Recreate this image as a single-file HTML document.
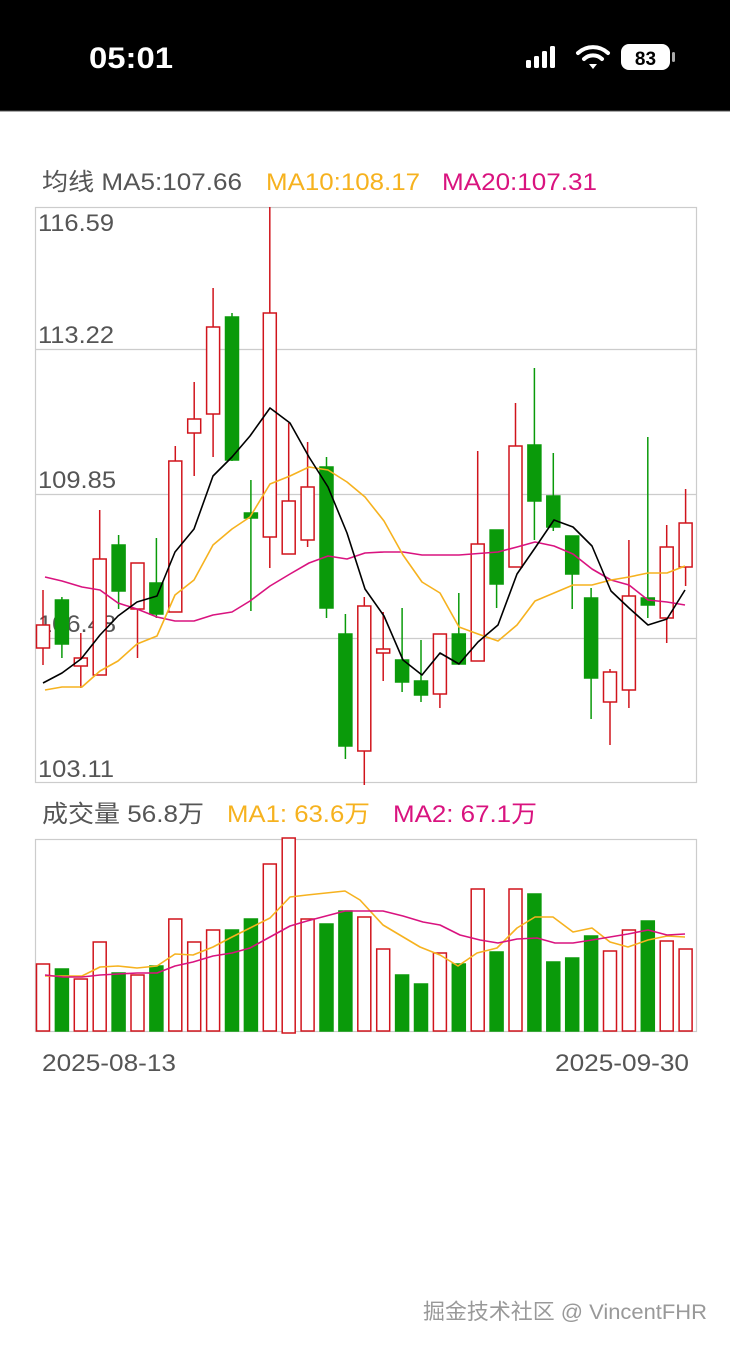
<!DOCTYPE html>
<html><head><meta charset="utf-8"><style>
html,body{margin:0;padding:0;background:#fff;width:730px;height:1348px;overflow:hidden}
svg{display:block}
text{font-family:"Liberation Sans","Noto Sans CJK SC",sans-serif}
</style></head><body>
<svg width="730" height="1348" viewBox="0 0 730 1348" xmlns="http://www.w3.org/2000/svg">
<rect x="0" y="0" width="730" height="111" fill="#000"/>
<line x1="0" y1="111" x2="730" y2="111" stroke="#555" stroke-width="1"/>
<text x="89" y="68" fill="#fff" font-size="30" font-weight="bold" textLength="84" lengthAdjust="spacingAndGlyphs">05:01</text>
<rect x="526" y="60" width="5" height="8" rx="1.5" fill="#fff"/>
<rect x="534" y="56" width="5" height="12" rx="1.5" fill="#fff"/>
<rect x="542" y="51" width="5" height="17" rx="1.5" fill="#fff"/>
<rect x="550" y="46" width="5" height="22" rx="1.5" fill="#fff"/>
<path d="M578 53 A22 22 0 0 1 608 53" stroke="#fff" stroke-width="4" fill="none" stroke-linecap="round"/>
<path d="M584 59 A13 13 0 0 1 602 59" stroke="#fff" stroke-width="4" fill="none" stroke-linecap="round"/>
<path d="M589 64 L593 69 L597 64 Z" fill="#fff"/>
<rect x="621" y="44" width="49" height="26" rx="8" fill="#fff"/>
<rect x="672" y="52" width="3" height="10" rx="1.5" fill="#aaa"/>
<text x="645.5" y="65" fill="#000" font-size="19" font-weight="bold" text-anchor="middle">83</text>

<g font-size="24" lengthAdjust="spacingAndGlyphs">
<text x="42" y="190" fill="#555" textLength="200" lengthAdjust="spacingAndGlyphs">均线 MA5:107.66</text>
<text x="266" y="190" fill="#f6b21f" textLength="154" lengthAdjust="spacingAndGlyphs">MA10:108.17</text>
<text x="442" y="190" fill="#d9137f" textLength="155" lengthAdjust="spacingAndGlyphs">MA20:107.31</text>
</g>

<rect x="35.5" y="207.5" width="661" height="575" fill="none" stroke="#ccc" stroke-width="1.2"/>
<line x1="35" y1="349.5" x2="696" y2="349.5" stroke="#ccc" stroke-width="1.2"/>
<line x1="35" y1="494.5" x2="696" y2="494.5" stroke="#ccc" stroke-width="1.2"/>
<line x1="35" y1="638.5" x2="696" y2="638.5" stroke="#ccc" stroke-width="1.2"/>
<g font-size="24.5" fill="#555">
<text x="38" y="231" textLength="76" lengthAdjust="spacingAndGlyphs">116.59</text>
<text x="38" y="343" textLength="76" lengthAdjust="spacingAndGlyphs">113.22</text>
<text x="38" y="488" textLength="78" lengthAdjust="spacingAndGlyphs">109.85</text>
<text x="38" y="632" textLength="78" lengthAdjust="spacingAndGlyphs">106.48</text>
<text x="38" y="777" textLength="76" lengthAdjust="spacingAndGlyphs">103.11</text>
</g>

<g stroke-width="1.5">
<g stroke="#0a9a0a" fill="#0a9a0a">
<line x1="61.9" y1="597" x2="61.9" y2="658"/><rect x="55.4" y="600" width="13" height="44"/>
<line x1="118.6" y1="535" x2="118.6" y2="609"/><rect x="112.1" y="545" width="13" height="46"/>
<line x1="156.4" y1="538" x2="156.4" y2="618"/><rect x="149.9" y="583" width="13" height="31"/>
<line x1="232" y1="313" x2="232" y2="461"/><rect x="225.5" y="317" width="13" height="143"/>
<line x1="250.9" y1="480" x2="250.9" y2="611"/><rect x="244.4" y="513" width="13" height="5"/>
<line x1="326.5" y1="457" x2="326.5" y2="618"/><rect x="320" y="467" width="13" height="141"/>
<line x1="345.4" y1="614" x2="345.4" y2="759"/><rect x="338.9" y="634" width="13" height="112"/>
<line x1="402.1" y1="608" x2="402.1" y2="692"/><rect x="395.6" y="660" width="13" height="22"/>
<line x1="421" y1="640" x2="421" y2="702"/><rect x="414.5" y="681" width="13" height="14"/>
<line x1="458.8" y1="593" x2="458.8" y2="664"/><rect x="452.3" y="634" width="13" height="30"/>
<line x1="496.6" y1="530" x2="496.6" y2="608"/><rect x="490.1" y="530" width="13" height="54"/>
<line x1="534.4" y1="368" x2="534.4" y2="540"/><rect x="527.9" y="445" width="13" height="56"/>
<line x1="553.3" y1="453" x2="553.3" y2="531"/><rect x="546.8" y="496" width="13" height="31"/>
<line x1="572.2" y1="536" x2="572.2" y2="609"/><rect x="565.7" y="536" width="13" height="38"/>
<line x1="591.1" y1="588" x2="591.1" y2="719"/><rect x="584.6" y="598" width="13" height="80"/>
<line x1="647.8" y1="437" x2="647.8" y2="618"/><rect x="641.3" y="598" width="13" height="7"/>
</g>
<g stroke="#d0141c" fill="#fff">
<line x1="43" y1="590" x2="43" y2="665"/><rect x="36.5" y="625" width="13" height="23"/>
<line x1="80.8" y1="633" x2="80.8" y2="688"/><rect x="74.3" y="658" width="13" height="8"/>
<line x1="99.7" y1="510" x2="99.7" y2="675"/><rect x="93.2" y="559" width="13" height="116"/>
<line x1="137.5" y1="563" x2="137.5" y2="658"/><rect x="131" y="563" width="13" height="46"/>
<line x1="175.3" y1="446" x2="175.3" y2="612"/><rect x="168.8" y="461" width="13" height="151"/>
<line x1="194.2" y1="382" x2="194.2" y2="476"/><rect x="187.7" y="419" width="13" height="14"/>
<line x1="213.1" y1="288" x2="213.1" y2="457"/><rect x="206.6" y="327" width="13" height="87"/>
<line x1="269.8" y1="207" x2="269.8" y2="568"/><rect x="263.3" y="313" width="13" height="224"/>
<line x1="288.7" y1="423" x2="288.7" y2="554"/><rect x="282.2" y="501" width="13" height="53"/>
<line x1="307.6" y1="442" x2="307.6" y2="547"/><rect x="301.1" y="487" width="13" height="53"/>
<line x1="364.3" y1="597" x2="364.3" y2="785"/><rect x="357.8" y="606" width="13" height="145"/>
<line x1="383.2" y1="612" x2="383.2" y2="681"/><rect x="376.7" y="649" width="13" height="4"/>
<line x1="439.9" y1="634" x2="439.9" y2="708"/><rect x="433.4" y="634" width="13" height="60"/>
<line x1="477.7" y1="451" x2="477.7" y2="661"/><rect x="471.2" y="544" width="13" height="117"/>
<line x1="515.5" y1="403" x2="515.5" y2="567"/><rect x="509" y="446" width="13" height="121"/>
<line x1="610" y1="669" x2="610" y2="745"/><rect x="603.5" y="672" width="13" height="30"/>
<line x1="628.9" y1="540" x2="628.9" y2="708"/><rect x="622.4" y="596" width="13" height="94"/>
<line x1="666.7" y1="525" x2="666.7" y2="643"/><rect x="660.2" y="547" width="13" height="71"/>
<line x1="685.6" y1="489" x2="685.6" y2="586"/><rect x="679.1" y="523" width="13" height="44"/>
</g>
</g>

<g fill="none" stroke-width="1.6" stroke-linejoin="round">
<polyline stroke="#d9137f" points="45,577 62,581 82,587 100,590 118,603 137,609 157,617 175,621 194,621 213,615 232,612 250,601 270,586 290,574 309,563 328,556 347,559 365,553 384,552 403,552 422,555 440,555 459,555 485,553 498,552 517,547 535,542 554,546 573,554 592,569 611,580 629,585 648,600 667,602 685,605"/>
<polyline stroke="#f6b21f" points="45,690 62,687 82,687 100,671 118,661 137,644 157,636 175,595 194,580 213,545 232,529 250,517 270,484 290,476 309,467 328,470 347,482 365,497 384,521 403,555 422,582 440,593 459,627 478,634 498,641 517,625 535,601 554,593 573,585 592,585 611,580 629,577 648,573 667,573 685,566"/>
<polyline stroke="#000" points="43,683 62,673 81,659 100,635 118,616 137,602 157,596 175,552 194,529 213,476 232,457 250,436 270,408 290,423 309,457 328,487 347,533 365,589 384,616 403,660 422,675 440,653 459,664 478,642 498,625 517,574 535,548 554,520 573,527 592,546 611,591 629,608 648,625 667,619 685,590"/>
</g>

<g font-size="24">
<text x="42" y="822" fill="#555" textLength="162" lengthAdjust="spacingAndGlyphs">成交量 56.8万</text>
<text x="227" y="822" fill="#f6b21f" textLength="143" lengthAdjust="spacingAndGlyphs">MA1: 63.6万</text>
<text x="393" y="822" fill="#d9137f" textLength="144" lengthAdjust="spacingAndGlyphs">MA2: 67.1万</text>
</g>

<rect x="35.5" y="839.5" width="661" height="192" fill="none" stroke="#ccc" stroke-width="1.2"/>

<g stroke-width="1.5">
<g fill="#0a9a0a" stroke="#0a9a0a">
<rect x="55.4" y="969" width="13" height="62"/>
<rect x="112.1" y="973" width="13" height="58"/>
<rect x="149.9" y="966" width="13" height="65"/>
<rect x="225.5" y="930" width="13" height="101"/>
<rect x="244.4" y="919" width="13" height="112"/>
<rect x="320" y="924" width="13" height="107"/>
<rect x="338.9" y="911" width="13" height="120"/>
<rect x="395.6" y="975" width="13" height="56"/>
<rect x="414.5" y="984" width="13" height="47"/>
<rect x="452.3" y="964" width="13" height="67"/>
<rect x="490.1" y="952" width="13" height="79"/>
<rect x="527.9" y="894" width="13" height="137"/>
<rect x="546.8" y="962" width="13" height="69"/>
<rect x="565.7" y="958" width="13" height="73"/>
<rect x="584.6" y="936" width="13" height="95"/>
<rect x="641.3" y="921" width="13" height="110"/>
</g>
<g fill="#fff" stroke="#d0141c">
<rect x="36.5" y="964" width="13" height="67"/>
<rect x="74.3" y="979" width="13" height="52"/>
<rect x="93.2" y="942" width="13" height="89"/>
<rect x="131" y="975" width="13" height="56"/>
<rect x="168.8" y="919" width="13" height="112"/>
<rect x="187.7" y="942" width="13" height="89"/>
<rect x="206.6" y="930" width="13" height="101"/>
<rect x="263.3" y="864" width="13" height="167"/>
<rect x="282.2" y="838" width="13" height="195"/>
<rect x="301.1" y="919" width="13" height="112"/>
<rect x="357.8" y="917" width="13" height="114"/>
<rect x="376.7" y="949" width="13" height="82"/>
<rect x="433.4" y="953" width="13" height="78"/>
<rect x="471.2" y="889" width="13" height="142"/>
<rect x="509" y="889" width="13" height="142"/>
<rect x="603.5" y="951" width="13" height="80"/>
<rect x="622.4" y="930" width="13" height="101"/>
<rect x="660.2" y="941" width="13" height="90"/>
<rect x="679.1" y="949" width="13" height="82"/>
</g>
</g>
<g fill="none" stroke-width="1.6" stroke-linejoin="round">
<polyline stroke="#f6b21f" points="45,976 63,976 82,976 100,967 118,966 137,968 157,966 175,954 193,955 213,947 232,937 250,928 270,918 290,897 307,895 345,891 360,900 383,925 420,947 440,955 458,966 477,953 497,948 517,928 535,917 553,917 573,932 592,928 610,942 628,947 648,940 667,936 685,937"/>
<polyline stroke="#d9137f" points="45,975 63,977 82,977 100,975 118,974 137,973 157,973 175,966 193,962 213,956 232,953 250,948 270,937 290,926 307,921 345,911 383,911 403,916 423,922 440,925 460,935 480,940 498,943 517,939 537,938 555,943 573,943 592,940 610,937 628,934 648,930 667,935 685,934"/>
</g>

<g font-size="24" fill="#555">
<text x="42" y="1071" textLength="134" lengthAdjust="spacingAndGlyphs">2025-08-13</text>
<text x="555" y="1071" textLength="134" lengthAdjust="spacingAndGlyphs">2025-09-30</text>
</g>

<text x="423" y="1319" font-size="21.5" fill="#999" textLength="284" lengthAdjust="spacingAndGlyphs">掘金技术社区 @ VincentFHR</text>
</svg>
</body></html>
